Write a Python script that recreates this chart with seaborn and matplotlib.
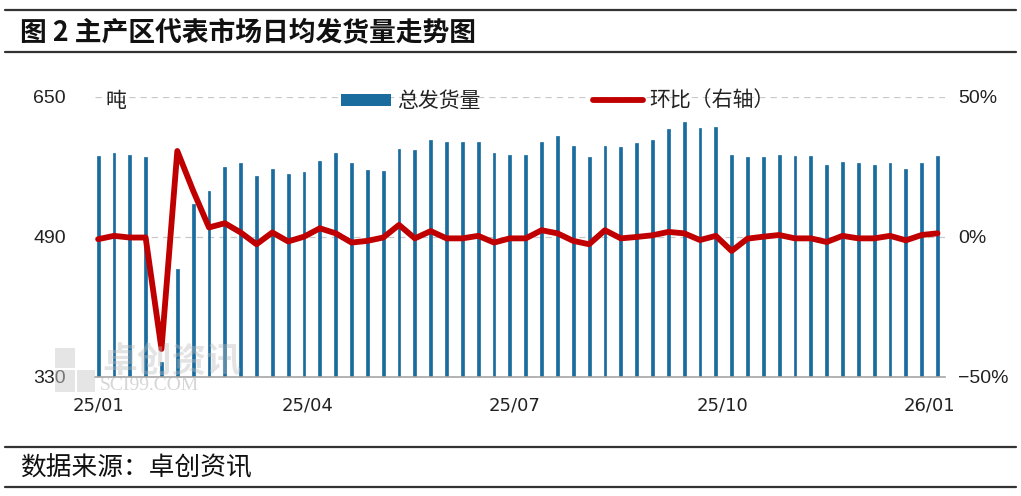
import numpy as np
import pandas as pd
import matplotlib
matplotlib.use('Agg')
import matplotlib.pyplot as plt
import seaborn as sns
from matplotlib.lines import Line2D
from matplotlib.patches import Patch, Rectangle

# 周度数据：总发货量（吨）与环比（%）
weeks = list(range(54))
volume = [582, 586, 584, 581, 347, 453, 528, 543, 570, 574,
          560, 568, 562, 564, 577, 586, 574, 567, 565, 591,
          589, 601, 598, 598, 598, 586, 584, 584, 598, 605,
          594, 581, 594, 593, 597, 601, 613, 621, 614, 616,
          584, 581, 581, 584, 583, 583, 572, 576, 574, 572,
          574, 568, 574, 583]
ring = [-0.8, 0.4, -0.2, -0.2, -40.0, 30.7, 16.5, 3.4, 4.9, 1.6,
        -2.6, 1.6, -1.6, 0.1, 3.1, 1.3, -2.0, -1.4, -0.2, 4.3,
        -0.5, 2.1, -0.5, -0.5, 0.4, -2.0, -0.5, -0.5, 2.4, 1.3,
        -1.4, -2.6, 2.4, -0.5, 0.0, 0.6, 1.8, 1.3, -1.1, 0.4,
        -5.0, -0.6, 0.1, 0.7, -0.5, -0.5, -1.8, 0.4, -0.5, -0.5,
        0.4, -1.2, 0.7, 1.3]
tick_pos = [0, 13.2, 26.3, 39.4, 52.5]
tick_labels = ['25/01', '25/04', '25/07', '25/10', '26/01']

df = pd.DataFrame({'week': weeks, 'volume': volume, 'ring': ring})

sns.set_theme(style='white')
plt.rcParams['font.family'] = ['Noto Sans CJK SC', 'DejaVu Sans']
plt.rcParams['axes.unicode_minus'] = True

blue = '#1A6C9E'
red = '#C00000'

fig = plt.figure(figsize=(10.21, 4.96), dpi=100)
ax = fig.add_axes([0.093, 0.24, 0.833, 0.5645])

sns.barplot(data=df, x='week', y='volume', color=blue, width=0.18,
            saturation=1, edgecolor=blue, linewidth=0.5, ax=ax, zorder=2)
ax.set_ylim(330, 650)
ax.set_xlim(-0.2, 53.5)
ax.set_yticks([330, 490, 650])
ax.set_yticklabels(['330', '490', '650'], family='Liberation Sans', fontsize=14, color='#222222')
ax.set_xticks(tick_pos)
ax.set_xticklabels(tick_labels, family='DejaVu Sans', fontsize=13, color='#222222')
ax.tick_params(axis='y', length=0, pad=21)
ax.tick_params(axis='x', length=0, pad=14)
ax.set_xlabel('')
ax.set_ylabel('')
for y in [490, 650]:
    ax.axhline(y, color='#C8C8C8', lw=0.9, ls=(0, (5, 4)), zorder=1)
for s in ['top', 'left', 'right']:
    ax.spines[s].set_visible(False)
ax.spines['bottom'].set_color('#A6A6A6')
ax.spines['bottom'].set_linewidth(1.2)

ax2 = ax.twinx()
sns.lineplot(data=df, x='week', y='ring', color=red, linewidth=4.2, ax=ax2,
             solid_joinstyle='round', solid_capstyle='round', zorder=3)
ax2.set_ylim(-50, 50)
ax2.set_yticks([-50, 0, 50])
ax2.set_yticklabels(['\u221250%', '0%', '50%'], family='Liberation Sans', fontsize=14, color='#222222')
ax2.tick_params(axis='y', length=0, pad=9)
ax2.set_ylabel('')
for s in ['top', 'left', 'right', 'bottom']:
    ax2.spines[s].set_visible(False)

# 单位
fig.text(0.103, 1 - 101 / 496, '吨', fontsize=15, va='center', ha='left', color='#222222')

# 图例
handles = [Patch(facecolor=blue, edgecolor='none'),
           Line2D([0], [0], color=red, lw=4.2, solid_capstyle='round')]
fig.legend(handles, ['总发货量', '环比（右轴）'], ncol=2, frameon=False,
           loc='center', bbox_to_anchor=(558 / 1021, 1 - 101 / 496),
           fontsize=15, handlelength=2.4, handleheight=0.5, handletextpad=0.3,
           columnspacing=5.4, labelcolor='#222222')

# 水印
for (x0, y0, w, h) in [(55, 348, 20, 20), (55, 370, 20, 22), (77, 370, 18, 22)]:
    fig.add_artist(Rectangle((x0 / 1021, 1 - (y0 + h) / 496), w / 1021, h / 496,
                             transform=fig.transFigure, facecolor='#CCCCCC',
                             edgecolor='none', alpha=0.5, zorder=5))
fig.text(0.1, 1 - 362 / 496, '卓创资讯', fontsize=25, color='#BBBBBB', alpha=0.4,
         va='center', ha='left', fontweight='bold')
fig.text(0.098, 1 - 386 / 496, 'SCI99.COM', fontsize=14, color='#BBBBBB', alpha=0.6,
         va='center', ha='left', family='Liberation Serif')

# 标题与来源
for yy in [1 - 10 / 496, 1 - 52 / 496, 1 - 447 / 496, 1 - 487 / 496]:
    fig.add_artist(Line2D([0.005, 0.995], [yy, yy], color='#333333', lw=1.6,
                          transform=fig.transFigure))
fig.text(0.02, 1 - 32 / 496, '图 2 主产区代表市场日均发货量走势图', fontsize=19.3,
         fontweight='bold', va='center', ha='left', color='#111111')
fig.text(0.02, 1 - 468 / 496, '数据来源：卓创资讯', fontsize=18.5,
         va='center', ha='left', color='#111111')

fig.savefig('out.png', dpi=100)
